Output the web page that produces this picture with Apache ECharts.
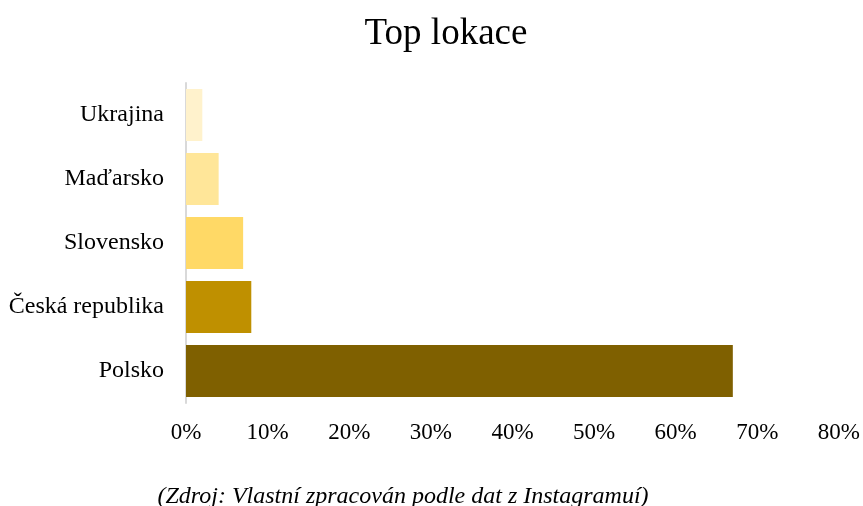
<!DOCTYPE html>
<html>
<head>
<meta charset="utf-8">
<script src="https://cdn.jsdelivr.net/npm/echarts@6/dist/echarts.min.js"></script>
<style>
  html, body { margin: 0; padding: 0; background: #fff; }
  #chart { width: 863px; height: 506px; }
</style>
</head>
<body>
<div id="chart"></div>
<script>
// kategorie odspodu nahoru (kategoriální osa y začíná dole)
const categories = ['Polsko', 'Česká republika', 'Slovensko', 'Maďarsko', 'Ukrajina']
const values = [67, 8, 7, 4, 2]
const barColors = ['#7F6000', '#BF9000', '#FFD966', '#FFE699', '#FFF2CC']
const xTicks = [0, 10, 20, 30, 40, 50, 60, 70, 80]

const font = 'Liberation Serif, Times New Roman, serif'
const myChart = echarts.init(document.getElementById('chart'))

const option = {
  backgroundColor: '#fff',
  animation: false,
  title: [
    {
      text: 'Top lokace',
      left: 441,
      textAlign: 'center',
      top: 11,
      textStyle: { fontFamily: font, fontSize: 37, fontWeight: 'normal', color: '#000' }
    },
    {
      text: '(Zdroj: Vlastní zpracován podle dat z Instagramuí)',
      left: 398,
      textAlign: 'center',
      top: 480,
      textStyle: { fontFamily: font, fontSize: 24, fontStyle: 'italic', fontWeight: 'normal', color: '#000' }
    }
  ],
  grid: { left: 186, right: 21, top: 83, height: 320 },
  xAxis: {
    type: 'value',
    min: xTicks[0],
    max: xTicks[xTicks.length - 1],
    interval: 10,
    axisLine: { show: false },
    axisTick: { show: false },
    splitLine: { show: false },
    axisLabel: {
      margin: 18,
      fontFamily: font,
      fontSize: 23,
      color: '#000',
      formatter: v => v + '%'
    }
  },
  yAxis: {
    type: 'category',
    data: categories,
    axisLine: { show: true, lineStyle: { color: '#d9d9d9', width: 2 } },
    axisTick: { show: false },
    axisLabel: { margin: 22, fontFamily: font, fontSize: 24, color: '#000', padding: [4, 0, 0, 0] }
  },
  series: [
    {
      type: 'bar',
      barCategoryGap: '19%',
      data: values.map((v, i) => ({ value: v, itemStyle: { color: barColors[i] } }))
    }
  ]
}
myChart.setOption(option)
</script>
</body>
</html>
